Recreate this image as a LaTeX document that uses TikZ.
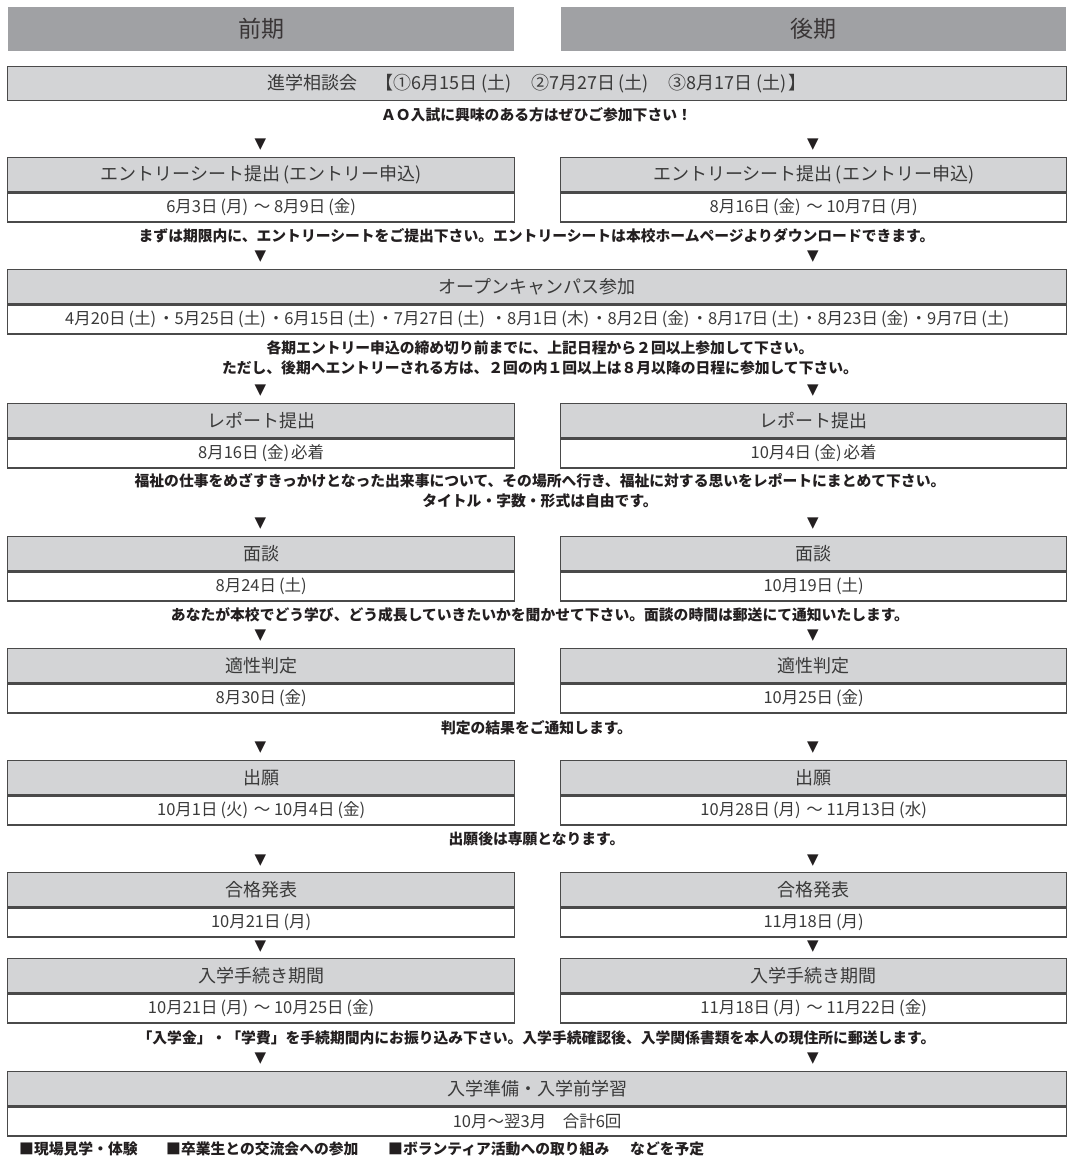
\documentclass[tikz,border=0pt]{standalone}
\usepackage{fontspec}
\setmainfont{Noto Sans CJK JP}
\newfontfamily\symfont{DejaVu Sans}
\definecolor{hdrgray}{HTML}{A0A1A4}
\definecolor{boxgray}{HTML}{D3D4D6}
\definecolor{edgegray}{HTML}{4A4A4A}
\definecolor{ink}{HTML}{231F20}
\definecolor{boxink}{HTML}{3A3A3A}
\newcommand\dw[1]{\hspace{0.18em}(#1)\hspace{0.12em}}
\tikzset{
  bighdr/.style={fill=hdrgray, draw=white, line width=1pt, inner sep=0pt, anchor=north west,
    minimum height=45pt, font=\fontsize{23}{23}\selectfont, text=ink!90},
  toprow/.style={fill=boxgray, draw=edgegray, line width=1.3pt, inner sep=0pt, anchor=north west,
    minimum height=34pt, font=\fontsize{18}{18}\selectfont, text=boxink},
  daterow/.style={fill=white, draw=edgegray, line width=1.3pt, inner sep=0pt, anchor=north west,
    minimum height=29pt, font=\fontsize{16.5}{16.5}\selectfont, text=boxink},
  notetext/.style={font=\bfseries\fontsize{14.8}{20}\selectfont, text=ink, align=center, inner sep=0pt},
  tri/.style={font=\symfont\fontsize{15}{15}\selectfont, text=ink, inner sep=0pt},
  bottomtext/.style={font=\bfseries\fontsize{14.8}{15}\selectfont, text=ink, inner sep=0pt, anchor=west},
}
% name, x-left, width, y-top, header, date
\newcommand\mystep[6]{%
  \node[toprow, minimum width=#3pt] (#1h) at (#2,#4) {#5};
  \node[daterow, minimum width=#3pt] (#1d) at (#1h.south west) {#6};
}
\begin{document}
\begin{tikzpicture}[x=1pt,y=-1pt]
\useasboundingbox[fill=white] (0,0) rectangle (1067,1156);

% column headers
\node[bighdr, minimum width=507pt] (hl) at (7,6) {前期};
\node[bighdr, minimum width=506pt] (hr) at (560,6) {後期};

% 進学相談会
\node[toprow, minimum width=1059pt] (sod) at (7,66) {進学相談会　【①6月15日\dw{土}　②7月27日\dw{土}　③8月17日\dw{土}】};
\node[notetext] (n1) at (536.5,115) {ＡＯ入試に興味のある方はぜひご参加下さい！};

% entry
\node[tri] (a1l) at (260.5,145) {▼};
\node[tri] (a1r) at (813,145) {▼};
\mystep{el}{7}{507}{157}{エントリーシート提出\dw{エントリー申込}}{6月3日\dw{月} ～ 8月9日\dw{金}}
\mystep{er}{560}{506}{157}{エントリーシート提出\dw{エントリー申込}}{8月16日\dw{金} ～ 10月7日\dw{月}}
\node[notetext] (n2) at (536.5,236) {まずは期限内に、エントリーシートをご提出下さい。エントリーシートは本校ホームページよりダウンロードできます。};

% open campus
\node[tri] (a2l) at (260.5,257) {▼};
\node[tri] (a2r) at (813,257) {▼};
\mystep{oc}{7}{1059}{269}{オープンキャンパス参加}{4月20日\dw{土}・5月25日\dw{土}・6月15日\dw{土}・7月27日\dw{土} ・8月1日\dw{木}・8月2日\dw{金}・8月17日\dw{土}・8月23日\dw{金}・9月7日\dw{土}}
\node[notetext] (n3) at (540,358) {各期エントリー申込の締め切り前までに、上記日程から２回以上参加して下さい。\\ただし、後期へエントリーされる方は、２回の内１回以上は８月以降の日程に参加して下さい。};

% report
\node[tri] (a3l) at (260.5,391) {▼};
\node[tri] (a3r) at (813,391) {▼};
\mystep{rl}{7}{507}{403}{レポート提出}{8月16日\dw{金}必着}
\mystep{rr}{560}{506}{403}{レポート提出}{10月4日\dw{金}必着}
\node[notetext] (n4) at (540,491) {福祉の仕事をめざすきっかけとなった出来事について、その場所へ行き、福祉に対する思いをレポートにまとめて下さい。\\タイトル・字数・形式は自由です。};

% interview
\node[tri] (a4l) at (260.5,524) {▼};
\node[tri] (a4r) at (813,524) {▼};
\mystep{ml}{7}{507}{536}{面談}{8月24日\dw{土}}
\mystep{mr}{560}{506}{536}{面談}{10月19日\dw{土}}
\node[notetext] (n5) at (540,615) {あなたが本校でどう学び、どう成長していきたいかを聞かせて下さい。面談の時間は郵送にて通知いたします。};

% aptitude
\node[tri] (a5l) at (260.5,636) {▼};
\node[tri] (a5r) at (813,636) {▼};
\mystep{tl}{7}{507}{648}{適性判定}{8月30日\dw{金}}
\mystep{tr}{560}{506}{648}{適性判定}{10月25日\dw{金}}
\node[notetext] (n6) at (536.5,728) {判定の結果をご通知します。};

% application
\node[tri] (a6l) at (260.5,748) {▼};
\node[tri] (a6r) at (813,748) {▼};
\mystep{sl}{7}{507}{760}{出願}{10月1日\dw{火} ～ 10月4日\dw{金}}
\mystep{sr}{560}{506}{760}{出願}{10月28日\dw{月} ～ 11月13日\dw{水}}
\node[notetext] (n7) at (536.5,839) {出願後は専願となります。};

% results
\node[tri] (a7l) at (260.5,861) {▼};
\node[tri] (a7r) at (813,861) {▼};
\mystep{gl}{7}{507}{872}{合格発表}{10月21日\dw{月}}
\mystep{gr}{560}{506}{872}{合格発表}{11月18日\dw{月}}

% enrollment procedure
\node[tri] (a8l) at (260.5,947) {▼};
\node[tri] (a8r) at (813,947) {▼};
\mystep{jl}{7}{507}{958}{入学手続き期間}{10月21日\dw{月} ～ 10月25日\dw{金}}
\mystep{jr}{560}{506}{958}{入学手続き期間}{11月18日\dw{月} ～ 11月22日\dw{金}}
\node[notetext] (n8) at (536.5,1038) {「入学金」・「学費」を手続期間内にお振り込み下さい。入学手続確認後、入学関係書類を本人の現住所に郵送します。};

% preparation
\node[tri] (a9l) at (260.5,1059) {▼};
\node[tri] (a9r) at (813,1059) {▼};
\mystep{pp}{7}{1059}{1071}{入学準備・入学前学習}{10月～翌3月　合計6回}

% bottom line
\node[bottomtext] (b1) at (19,1149) {■現場見学・体験};
\node[bottomtext] (b2) at (166,1149) {■卒業生との交流会への参加};
\node[bottomtext] (b3) at (388,1149) {■ボランティア活動への取り組み};
\node[bottomtext] (b4) at (630,1149) {などを予定};
\end{tikzpicture}
\end{document}
